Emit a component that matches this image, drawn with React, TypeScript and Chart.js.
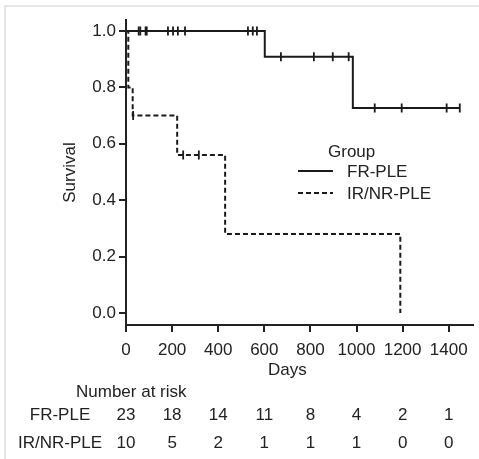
import React, { useEffect, useRef } from "react";
import { Chart, registerables } from "chart.js";
Chart.register(...registerables);

const xTicks = [0, 200, 400, 600, 800, 1000, 1200, 1400];
const yTicks = [0, 0.2, 0.4, 0.6, 0.8, 1.0];
const groups = ["FR-PLE", "IR/NR-PLE"];
const frEventDays = [0, 602, 984];
const frSurvival = [1.0, 0.909, 0.727];
const frLastDay = 1448;
const frCensorDays = [55, 62, 85, 90, 182, 204, 225, 256, 529, 550, 568, 672, 815, 897, 966, 1079, 1196, 1391, 1448];
const irEventDays = [0, 10, 29, 222, 430, 1190];
const irSurvival = [1.0, 0.8, 0.7, 0.56, 0.28, 0.0];
const irLastDay = 1190;
const irCensorDays = [31, 248, 316];
const riskFR = [23, 18, 14, 11, 8, 4, 2, 1];
const riskIR = [10, 5, 2, 1, 1, 1, 0, 0];

const FONT = '"Liberation Sans", Arial, sans-serif';
const INK = "#222222";

function stepPoints(days: number[], surv: number[], last: number) {
  const pts = [{ x: days[0], y: surv[0] }];
  for (let i = 1; i < days.length; i++) {
    pts.push({ x: days[i], y: surv[i - 1] });
    pts.push({ x: days[i], y: surv[i] });
  }
  if (last > days[days.length - 1]) pts.push({ x: last, y: surv[surv.length - 1] });
  return pts;
}
function survAt(days: number[], surv: number[], t: number) {
  let s = surv[0];
  for (let i = 0; i < days.length; i++) if (days[i] <= t) s = surv[i];
  return s;
}

const decorPlugin = {
  id: "decor",
  beforeDraw(chart: any) {
    const ctx = chart.ctx;
    ctx.save();
    ctx.fillStyle = "#e6e6e6";
    ctx.fillRect(4, 5, chart.width - 4, 2);
    ctx.fillRect(4, 5, 2, chart.height - 5);
    ctx.restore();
  },
  afterDraw(chart: any) {
    const ctx = chart.ctx;
    const xs = chart.scales.x;
    const area = chart.chartArea;
    ctx.save();
    ctx.fillStyle = INK;
    ctx.strokeStyle = "#1a1a1a";
    ctx.font = `17px ${FONT}`;
    // x axis title
    ctx.textAlign = "center";
    ctx.textBaseline = "alphabetic";
    const cx = (xs.getPixelForValue(xTicks[0]) + xs.getPixelForValue(xTicks[xTicks.length - 1])) / 2;
    ctx.fillText("Days", cx, area.bottom + 50);
    // legend
    const lx = area.left + 172;
    const ly = area.top + 137;
    ctx.textAlign = "left";
    ctx.fillText("Group", lx + 30, ly);
    const rows = [ly + 20, ly + 42];
    groups.forEach((g, i) => {
      ctx.lineWidth = 2;
      ctx.setLineDash(i === 0 ? [] : [5, 3]);
      ctx.beginPath();
      ctx.moveTo(lx, rows[i] - 6);
      ctx.lineTo(lx + 35, rows[i] - 6);
      ctx.stroke();
      ctx.setLineDash([]);
      ctx.fillText(g, lx + 49, rows[i]);
    });
    // number at risk table
    ctx.textAlign = "left";
    ctx.fillText("Number at risk", 76, area.bottom + 72);
    const riskRows = [riskFR, riskIR];
    const rowY = [area.bottom + 95, area.bottom + 123];
    riskRows.forEach((r, i) => {
      ctx.textAlign = "center";
      ctx.fillText(groups[i], 60, rowY[i]);
      r.forEach((v, j) => {
        ctx.fillText(String(v), xs.getPixelForValue(xTicks[j]), rowY[i]);
      });
    });
    ctx.restore();
  },
};

export default function App() {
  const ref = useRef<HTMLCanvasElement | null>(null);
  useEffect(() => {
    if (!ref.current) return;
    const censorDs = (days: number[], ed: number[], sv: number[]) =>
      days.map((d) => ({ x: d, y: survAt(ed, sv, d) }));
    const chart = new Chart(ref.current, {
      type: "scatter",
      data: {
        datasets: [
          {
            label: groups[0],
            data: stepPoints(frEventDays, frSurvival, frLastDay),
            showLine: true,
            borderColor: "#1a1a1a",
            borderWidth: 2,
            pointRadius: 0,
            fill: false,
          },
          {
            label: groups[1],
            data: stepPoints(irEventDays, irSurvival, irLastDay),
            showLine: true,
            borderColor: "#1a1a1a",
            borderWidth: 2,
            borderDash: [5, 3],
            pointRadius: 0,
            fill: false,
          },
          {
            label: groups[0] + " censored",
            data: censorDs(frCensorDays, frEventDays, frSurvival),
            showLine: false,
            pointStyle: "line",
            rotation: 90,
            pointRadius: 4.5,
            pointBorderColor: "#1a1a1a",
            pointBorderWidth: 1.8,
          },
          {
            label: groups[1] + " censored",
            data: censorDs(irCensorDays, irEventDays, irSurvival),
            showLine: false,
            pointStyle: "line",
            rotation: 90,
            pointRadius: 4.5,
            pointBorderColor: "#1a1a1a",
            pointBorderWidth: 1.8,
          },
        ] as any,
      },
      options: {
        animation: false,
        responsive: false,
        maintainAspectRatio: false,
        layout: { padding: { left: 0, top: 20, right: 6, bottom: 0 } },
        plugins: { legend: { display: false }, tooltip: { enabled: false } },
        scales: {
          x: {
            type: "linear",
            min: 0,
            max: 1504,
            afterBuildTicks: (s: any) => {
              s.ticks = xTicks.map((v) => ({ value: v }));
            },
            afterFit: (s: any) => {
              s.height = 134;
            },
            ticks: {
              font: { family: FONT, size: 17 },
              color: INK,
              padding: 8,
              maxRotation: 0,
              autoSkip: false,
              callback: (v: any) => String(v),
            },
            grid: { drawOnChartArea: false, drawTicks: true, tickLength: 7, color: INK, lineWidth: 2 },
            border: { display: true, color: INK, width: 2 },
          },
          y: {
            type: "linear",
            min: -0.0426,
            max: 1.039,
            afterBuildTicks: (s: any) => {
              s.ticks = yTicks.map((v) => ({ value: v }));
            },
            afterFit: (s: any) => {
              s.width = 126;
            },
            ticks: {
              font: { family: FONT, size: 17 },
              color: INK,
              padding: 3,
              callback: (v: any) => Number(v).toFixed(1),
            },
            title: {
              display: true,
              text: "Survival",
              font: { family: FONT, size: 17 },
              color: INK,
              padding: { top: 60, bottom: 0 },
            },
            grid: { drawOnChartArea: false, drawTicks: true, tickLength: 7, color: INK, lineWidth: 2 },
            border: { display: true, color: INK, width: 2 },
          },
        },
      },
      plugins: [decorPlugin],
    });
    return () => chart.destroy();
  }, []);
  return (
    <div style={{ position: "fixed", left: 0, top: 0, width: 479, height: 459, background: "#fff" }}>
      <canvas ref={ref} width={479} height={459} style={{ width: 479, height: 459 }} />
    </div>
  );
}
